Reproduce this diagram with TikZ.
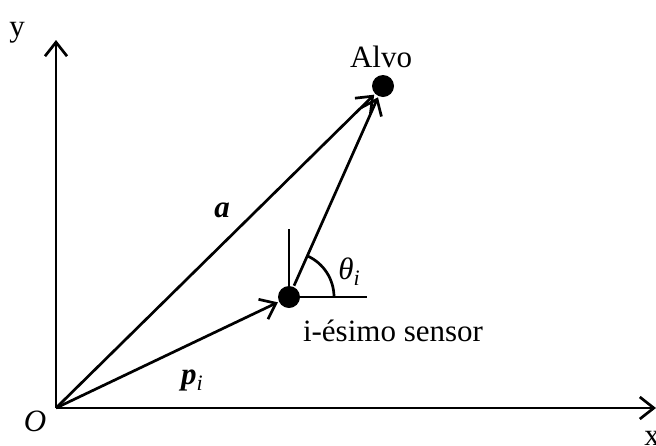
\documentclass[tikz,border=0pt]{standalone}
\usepackage{fontspec}
\setmainfont{Liberation Serif}
\usetikzlibrary{arrows.meta}
\begin{document}
\begin{tikzpicture}[x=1pt,y=-1pt, line width=2.7pt,
  ar/.style={-{Straight Barb[length=14pt,width=22pt,line width=2.7pt]}},
  dot/.style={circle,fill=black,inner sep=0pt,minimum size=22pt},
  lbl/.style={font=\fontsize{31}{37}\selectfont, inner sep=0pt}]
\useasboundingbox (0,0) rectangle (656,445);
\coordinate (O) at (56,408);
\coordinate (ytop) at (56,40);
\coordinate (xend) at (656,408);
\node[dot] (alvo) at (383,86) {};
\node[dot] (sensor) at (289,297) {};
\coordinate (vtop) at (289,229);
\coordinate (hend) at (367,297);
\draw[ar] (O) -- (ytop);
\draw[ar] (O) -- (xend);
\draw[ar] (O) -- (alvo);
\draw[ar] (O) -- (sensor);
\draw[ar] (sensor) -- (alvo);
\draw (sensor.center) -- (vtop);
\draw (sensor.center) -- (hend);
\draw (sensor.center) ++(45,0) arc[start angle=0,end angle=-66,radius=45];
\node[lbl] (ylbl) at (17,33) {y};
\node[lbl] (xlbl) at (652,438) {x};
\node[lbl] (olbl) at (35,421) {\textit{O}};
\node[lbl] (alvolbl) at (381,57) {Alvo};
\node[lbl] (albl) at (222,210) {\textbf{\textit{a}}};
\node[lbl] (thlbl) at (349,272) {\textit{θ}\raisebox{-6pt}{\fontsize{22}{26}\selectfont\textit{i}}};
\node[lbl] (plbl) at (192,380) {\textbf{\textit{p}}\raisebox{-6pt}{\fontsize{22}{26}\selectfont\textit{i}}};
\node[lbl] (slbl) at (393,331) {i-ésimo sensor};
\end{tikzpicture}
\end{document}
